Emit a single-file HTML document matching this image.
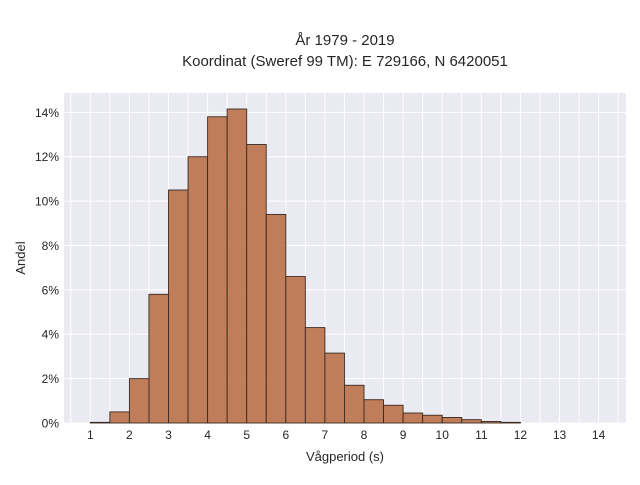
<!DOCTYPE html>
<html><head><meta charset="utf-8"><style>
body{margin:0;background:#fff}
svg text{font-family:"Liberation Sans",sans-serif;fill:#262626}
</style></head><body>
<svg width="640" height="480" id="c">
<rect x="64" y="93" width="562" height="330" fill="#eaeaf2"/>
<g id="grid"></g><g id="bars"></g><g id="ticks"></g>
<text x="345" y="45" text-anchor="middle" font-size="15">År 1979 - 2019</text>
<text x="345" y="66" text-anchor="middle" font-size="15">Koordinat (Sweref 99 TM): E 729166, N 6420051</text>
<text x="345" y="461" text-anchor="middle" font-size="13">Vågperiod (s)</text>
<text x="25" y="258" text-anchor="middle" font-size="13" transform="rotate(-90 25 258)">Andel</text>
</svg>
<script>
const binStarts=[1,1.5,2,2.5,3,3.5,4,4.5,5,5.5,6,6.5,7,7.5,8,8.5,9,9.5,10,10.5,11,11.5];
const shares=[0.03,0.5,2.0,5.8,10.5,12.0,13.8,14.15,12.55,9.4,6.6,4.3,3.15,1.7,1.05,0.8,0.45,0.35,0.25,0.15,0.07,0.03];
const binWidth=0.5;
const xTicks=[1,2,3,4,5,6,7,8,9,10,11,12,13,14];
const yTicks=[0,2,4,6,8,10,12,14];
const NS="http://www.w3.org/2000/svg";
const xs=v=>90.3+(v-1)*39.1;
const ys=v=>423-v*22.19;
function mk(t,a,p){const e=document.createElementNS(NS,t);for(const k in a)e.setAttribute(k,a[k]);p.appendChild(e);return e;}
const g=document.getElementById('grid'),b=document.getElementById('bars'),tk=document.getElementById('ticks');
for(let v=0.5;v<=14.5;v+=0.5){const l=mk('line',{x1:xs(v),x2:xs(v),y1:93,y2:423,stroke:'#fff','stroke-width':1},g);

}
yTicks.forEach(v=>{const l=mk('line',{x1:64,x2:626,y1:ys(v),y2:ys(v),stroke:'#fff','stroke-width':1},g);


const t=mk('text',{x:59,y:ys(v)+4.5,'text-anchor':'end','font-size':12},tk);t.textContent=v+'%';

});
xTicks.forEach(v=>{const t=mk('text',{x:xs(v),y:439,'text-anchor':'middle','font-size':12},tk);t.textContent=v;

});
binStarts.forEach((s,i)=>{const x0=xs(s),x1=xs(s+binWidth),y=ys(shares[i]);
const r=mk('rect',{x:x0,y:y,width:x1-x0,height:423-y,fill:'#bb7149','fill-opacity':0.9,stroke:'#3a2a22','stroke-width':0.9},b);

});
</script>
</body></html>
